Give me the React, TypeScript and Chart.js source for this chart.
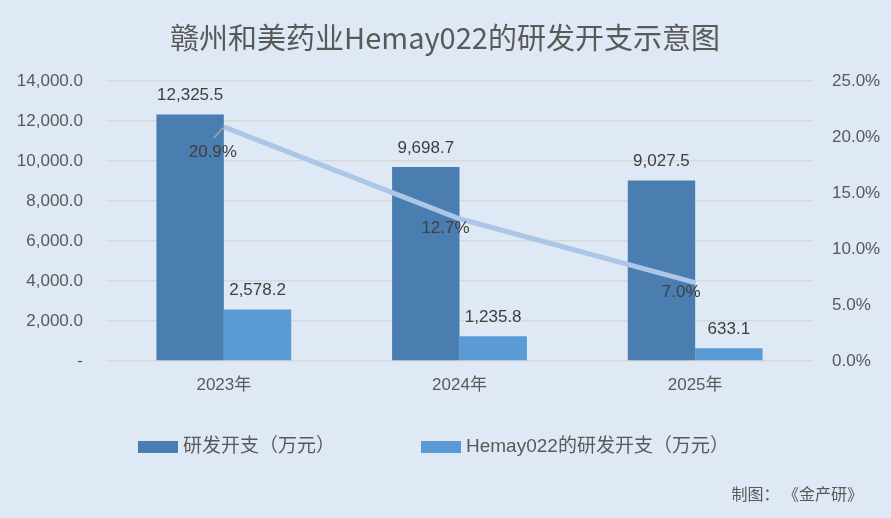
import React, { useRef, useEffect } from 'react';
import Chart from 'chart.js/auto';

const years = ['2023年', '2024年', '2025年'];
const rdSpend = [12325.5, 9698.7, 9027.5];
const hemaySpend = [2578.2, 1235.8, 633.1];
const hemayShare = [20.9, 12.7, 7.0];
const leftTicks = [0, 2000, 4000, 6000, 8000, 10000, 12000, 14000];
const rightTicks = [0, 5, 10, 15, 20, 25];

const FONT = "'Liberation Sans', 'Noto Sans CJK SC', sans-serif";
const CJK = "'Noto Sans CJK SC', sans-serif";
const TEXT = '#595959';
const LABEL = '#404040';
const DARK = '#4a7eb0';
const LIGHT = '#5b9bd5';
const LINE = '#abc6e7';
const BG = '#dee9f5';

const fmtNum = (v: number) =>
    v === 0 ? '-' : v.toLocaleString('en-US', { minimumFractionDigits: 1, maximumFractionDigits: 1 });

const App = () => {
    const chartRef = useRef<HTMLCanvasElement>(null);

    useEffect(() => {
        document.body.style.margin = '0';
        if (!chartRef.current) return;

        const overlay = {
            id: 'overlay',
            afterDatasetsDraw(chart: any) {
                const ctx = chart.ctx;
                ctx.save();
                // bar value labels
                ctx.font = `17px ${FONT}`;
                ctx.fillStyle = LABEL;
                ctx.textAlign = 'center';
                ctx.textBaseline = 'middle';
                [0, 1].forEach((di) => {
                    const meta = chart.getDatasetMeta(di);
                    const vals = di === 0 ? rdSpend : hemaySpend;
                    meta.data.forEach((bar: any, i: number) => {
                        ctx.fillText(fmtNum(vals[i]), bar.x, bar.y - 19);
                    });
                });
                // line labels (first one moved off with a leader line)
                const lm = chart.getDatasetMeta(2);
                lm.data.forEach((pt: any, i: number) => {
                    const dy = i === 0 ? 25 : 10;
                    const dx = i === 0 ? -11 : -14;
                    if (i === 0) {
                        ctx.strokeStyle = '#a6a6a6';
                        ctx.lineWidth = 1.5;
                        ctx.beginPath();
                        ctx.moveTo(pt.x - 10, pt.y + 11);
                        ctx.lineTo(pt.x - 1, pt.y + 1);
                        ctx.stroke();
                    }
                    ctx.fillStyle = LABEL;
                    ctx.fillText(`${hemayShare[i].toFixed(1)}%`, pt.x + dx, pt.y + dy);
                });
                ctx.restore();
            },
            afterDraw(chart: any) {
                const ctx = chart.ctx;
                ctx.save();
                // title
                ctx.font = `29px ${CJK}`;
                ctx.fillStyle = TEXT;
                ctx.textAlign = 'center';
                ctx.textBaseline = 'middle';
                ctx.fillText('赣州和美药业Hemay022的研发开支示意图', 445, 38);
                // legend
                ctx.textAlign = 'left';
                ctx.font = `19px ${FONT}`;
                const items = [
                    { x: 138, color: DARK, text: chart.data.datasets[0].label },
                    { x: 421, color: LIGHT, text: chart.data.datasets[1].label },
                ];
                items.forEach((it) => {
                    ctx.fillStyle = it.color;
                    ctx.fillRect(it.x, 441, 40, 12);
                    ctx.fillStyle = TEXT;
                    ctx.fillText(it.text, it.x + 45, 447);
                });
                // footnote
                ctx.font = `16px ${CJK}`;
                ctx.textAlign = 'right';
                ctx.fillText('制图： 《金产研》', 863, 494);
                ctx.restore();
            },
        };

        const bgPlugin = {
            id: 'bg',
            beforeDraw(chart: any) {
                const ctx = chart.ctx;
                ctx.save();
                ctx.fillStyle = BG;
                ctx.fillRect(0, 0, chart.width, chart.height);
                ctx.restore();
            },
        };

        const myChart = new Chart(chartRef.current, {
            type: 'bar',
            data: {
                labels: years,
                datasets: [
                    {
                        label: '研发开支（万元）',
                        data: rdSpend,
                        backgroundColor: DARK,
                        yAxisID: 'y',
                        order: 2,
                        categoryPercentage: 0.572,
                        barPercentage: 1,
                    },
                    {
                        label: 'Hemay022的研发开支（万元）',
                        data: hemaySpend,
                        backgroundColor: LIGHT,
                        yAxisID: 'y',
                        order: 2,
                        categoryPercentage: 0.572,
                        barPercentage: 1,
                    },
                    {
                        type: 'line',
                        label: 'Hemay022占比',
                        data: hemayShare,
                        borderColor: LINE,
                        borderWidth: 5,
                        pointRadius: 0,
                        yAxisID: 'y1',
                        order: 0,
                    } as any,
                ],
            },
            options: {
                animation: false,
                responsive: true,
                maintainAspectRatio: false,
                layout: { padding: { top: 81, bottom: 0, left: 0, right: 0 } },
                plugins: {
                    legend: { display: false },
                    tooltip: { enabled: false },
                    title: { display: false },
                },
                scales: {
                    x: {
                        grid: { display: false, drawTicks: false },
                        border: { display: false },
                        ticks: { color: TEXT, font: { size: 17, family: FONT }, padding: 14 },
                        afterFit: (s: any) => {
                            s.height = 157;
                        },
                    },
                    y: {
                        position: 'left',
                        min: 0,
                        max: 14000,
                        afterBuildTicks: (s: any) => {
                            s.ticks = leftTicks.map((v) => ({ value: v }));
                        },
                        grid: { color: '#d9d9d9', lineWidth: 1.5, drawTicks: false },
                        border: { display: false },
                        ticks: {
                            color: TEXT,
                            font: { size: 17, family: FONT },
                            padding: 23,
                            callback: (v: any) => fmtNum(Number(v)),
                        },
                        afterFit: (s: any) => {
                            s.width = 106;
                        },
                    },
                    y1: {
                        position: 'right',
                        min: 0,
                        max: 25,
                        afterBuildTicks: (s: any) => {
                            s.ticks = rightTicks.map((v) => ({ value: v }));
                        },
                        grid: { display: false, drawTicks: false },
                        border: { display: false },
                        ticks: {
                            color: TEXT,
                            font: { size: 17, family: FONT },
                            padding: 19,
                            callback: (v: any) => `${Number(v).toFixed(1)}%`,
                        },
                        afterFit: (s: any) => {
                            s.width = 78;
                        },
                    },
                },
            },
            plugins: [bgPlugin, overlay],
        } as any);
        return () => myChart.destroy();
    }, []);

    return (
        <div style={{ width: '891px', height: '518px', position: 'relative' }}>
            <canvas ref={chartRef} />
        </div>
    );
};

export default App;
